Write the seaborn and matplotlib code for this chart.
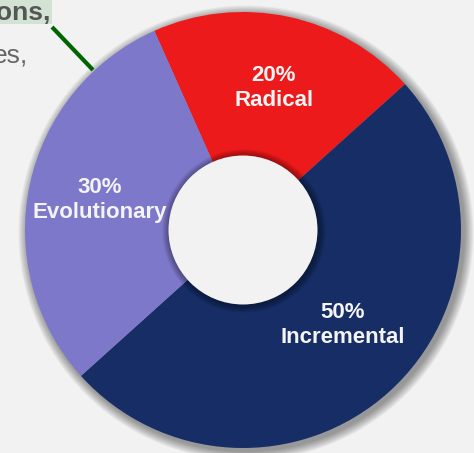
import matplotlib
matplotlib.use("Agg")
import matplotlib.pyplot as plt
import seaborn as sns
from matplotlib.patches import Circle, Rectangle

categories = ["Radical", "Incremental", "Evolutionary"]
shares = [20, 50, 30]
colors = ["#EC1A1A", "#162E65", "#7E78CB"]
label_pos = [(274, 365), (343, 128), (100, 253)]

sns.set_theme(style="white")
plt.rcParams['font.family'] = ['Liberation Sans', 'DejaVu Sans']

bg = "#F2F2F2"
fig = plt.figure(figsize=(4.74, 4.53), dpi=100, facecolor=bg)
ax = fig.add_axes([0, 0, 1, 1])
ax.set_facecolor(bg)

cx, cy, R, r = 243, 223, 218, 74.5

# soft outer shadow
for k in range(12, 0, -1):
    ax.add_patch(Circle((cx + 3, cy - 3), R + k * 0.8, facecolor="black",
                        alpha=0.035, edgecolor="none", zorder=1))

wedges, _ = ax.pie(shares, colors=colors, startangle=114, counterclock=False,
                   center=(cx, cy), radius=R, frame=True,
                   wedgeprops=dict(linewidth=0))
for w in wedges:
    w.set_zorder(2)
ax.set_xlim(0, 474)
ax.set_ylim(0, 453)
ax.set_aspect('equal')
ax.axis('off')

# hole with soft shadow
for k in range(8, 0, -1):
    ax.add_patch(Circle((cx + 1, cy - 1), r + k * 0.9, facecolor="black",
                        alpha=0.05, edgecolor="none", zorder=3))
ax.add_patch(Circle((cx, cy), r, facecolor=bg, edgecolor="none", zorder=4))

for cat, s, (x, y) in zip(categories, shares, label_pos):
    ax.text(x, y, f"{s}%\n{cat}", ha="center", va="center", color="#F4F4F4",
            fontsize=16, fontweight="bold", linespacing=1.25, zorder=5)

# fragment of surrounding slide text
ax.add_patch(Rectangle((0, 429), 52, 24, facecolor="#D3E3D3", edgecolor="none", zorder=5))
ax.text(-4, 433, "ons,", ha="left", va="baseline", color="#555555",
        fontsize=19, fontweight="bold", zorder=6)
ax.text(-7, 391, "es,", ha="left", va="baseline", color="#666666",
        fontsize=19, zorder=6)
ax.plot([52, 93], [426, 383], color="#006400", linewidth=3, solid_capstyle="butt", zorder=6)

fig.savefig("out.png", dpi=100, facecolor=bg)
